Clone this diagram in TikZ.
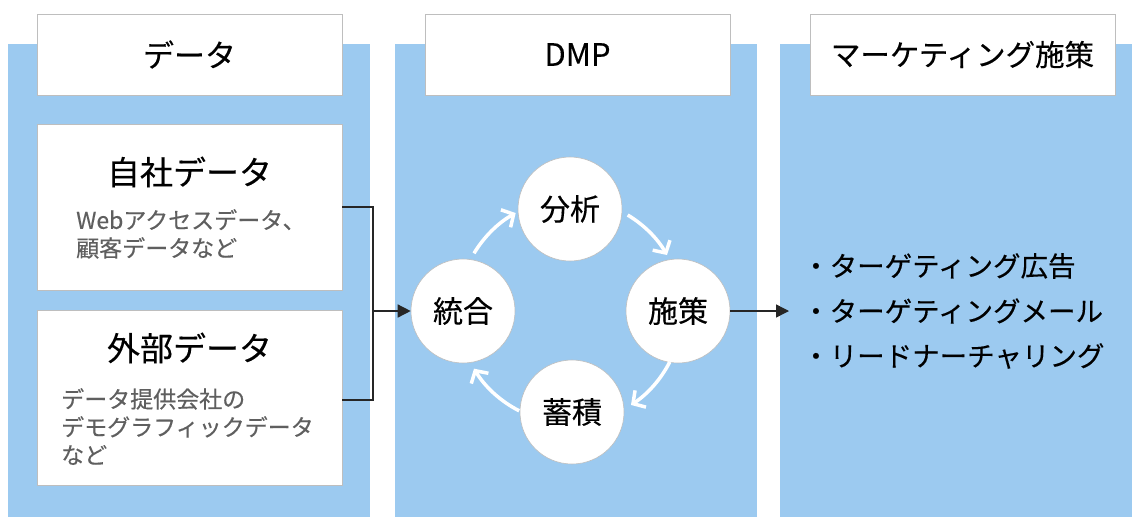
\documentclass[tikz,border=0pt]{standalone}
\usepackage{fontspec}
\setmainfont{Noto Sans CJK JP}[FakeBold=0.3]
\usetikzlibrary{arrows.meta}
\definecolor{colblue}{RGB}{156,202,240}
\definecolor{boxline}{RGB}{190,190,190}
\definecolor{subgray}{RGB}{95,95,95}
\tikzset{
  column/.style={fill=colblue, draw=none},
  headbox/.style={draw=boxline, fill=white, line width=0.8pt, minimum width=305, minimum height=81, inner sep=0pt, font=\fontsize{31}{36}\selectfont},
  databox/.style={draw=boxline, fill=white, line width=0.8pt, minimum width=305, inner sep=0pt},
  cyc/.style={circle, draw=boxline, fill=white, line width=0.6pt, minimum size=104, inner sep=0pt, font=\fontsize{30}{34}\selectfont},
  cycarrow/.style={draw=white, line width=3.5pt, -{Straight Barb[length=9pt, width=20pt, line width=3.5pt]}},
  conn/.style={draw=black!85, line width=1.4pt},
  title/.style={font=\fontsize{33}{38}\selectfont, inner sep=0pt},
  sub/.style={font=\fontsize{23}{28}\selectfont, text=subgray, align=left, anchor=north west, inner sep=0pt},
  listtext/.style={font=\fontsize{27.5}{45}\selectfont, align=left, anchor=west, inner sep=0pt}
}
\begin{document}
\begin{tikzpicture}[x=1pt, y=-1pt]
\useasboundingbox (0,0) rectangle (1132,517);
\fill[white] (0,0) rectangle (1132,517);
% columns
\path[column] (8,44) rectangle (370,517);
\path[column] (395,44) rectangle (757,517);
\path[column] (780,44) rectangle (1132,517);
% headers
\node[headbox] (h1) at (189.5,54.5) {データ};
\node[headbox] (h2) at (577.5,54.5) {DMP};
\node[headbox, font=\fontsize{29.5}{34}\selectfont] (h3) at (962.5,54.5) {マーケティング施策};
% data boxes
\node[databox, minimum height=166] (own) at (189.5,207) {};
\node[databox, minimum height=175] (ext) at (189.5,397.5) {};
\node[title] (ownt) at (189.5,172) {自社データ};
\node[sub] (owns) at (76,209) {Webアクセスデータ、\\顧客データなど};
\node[title] (extt) at (189.5,348) {外部データ};
\node[sub] (exts) at (61,388) {データ提供会社の\\デモグラフィックデータ\\など};
% bracket
\coordinate (bt) at (373,207);
\coordinate (bb) at (373,400);
\coordinate (bm) at (373,311);
\draw[conn] (own.east |- bt) -- (bt) -- (bb) -- (ext.east |- bb);
% cycle
\coordinate (cc) at (570,311);
\node[cyc] (togo) at (463,311) {統合};
\node[cyc] (bunseki) at (570,209) {分析};
\node[cyc] (shisaku) at (678,311) {施策};
\node[cyc] (chikuseki) at (572,412) {蓄積};
\draw[conn, -{Triangle[length=13pt, width=13pt]}] (bm) -- (togo.west);
% cycle arrows (y axis points down, so angles run clockwise on screen)
\draw[cycarrow] ([shift={(-149:112)}]cc) arc[start angle=-149, end angle=-119, radius=112];
\draw[cycarrow] ([shift={(-59:112)}]cc) arc[start angle=-59, end angle=-30, radius=112];
\draw[cycarrow] ([shift={(27:112)}]cc) arc[start angle=27, end angle=57, radius=112];
\draw[cycarrow] ([shift={(117:112)}]cc) arc[start angle=117, end angle=149, radius=112];
% output arrow
\coordinate (outend) at (789,311);
\draw[conn, -{Triangle[length=13pt, width=13pt]}] (shisaku.east) -- (outend);
\node[listtext] (l1) at (802,266) {・ターゲティング広告};
\node[listtext] (l2) at (802,311) {・ターゲティングメール};
\node[listtext] (l3) at (802,356) {・リードナーチャリング};
\end{tikzpicture}
\end{document}
